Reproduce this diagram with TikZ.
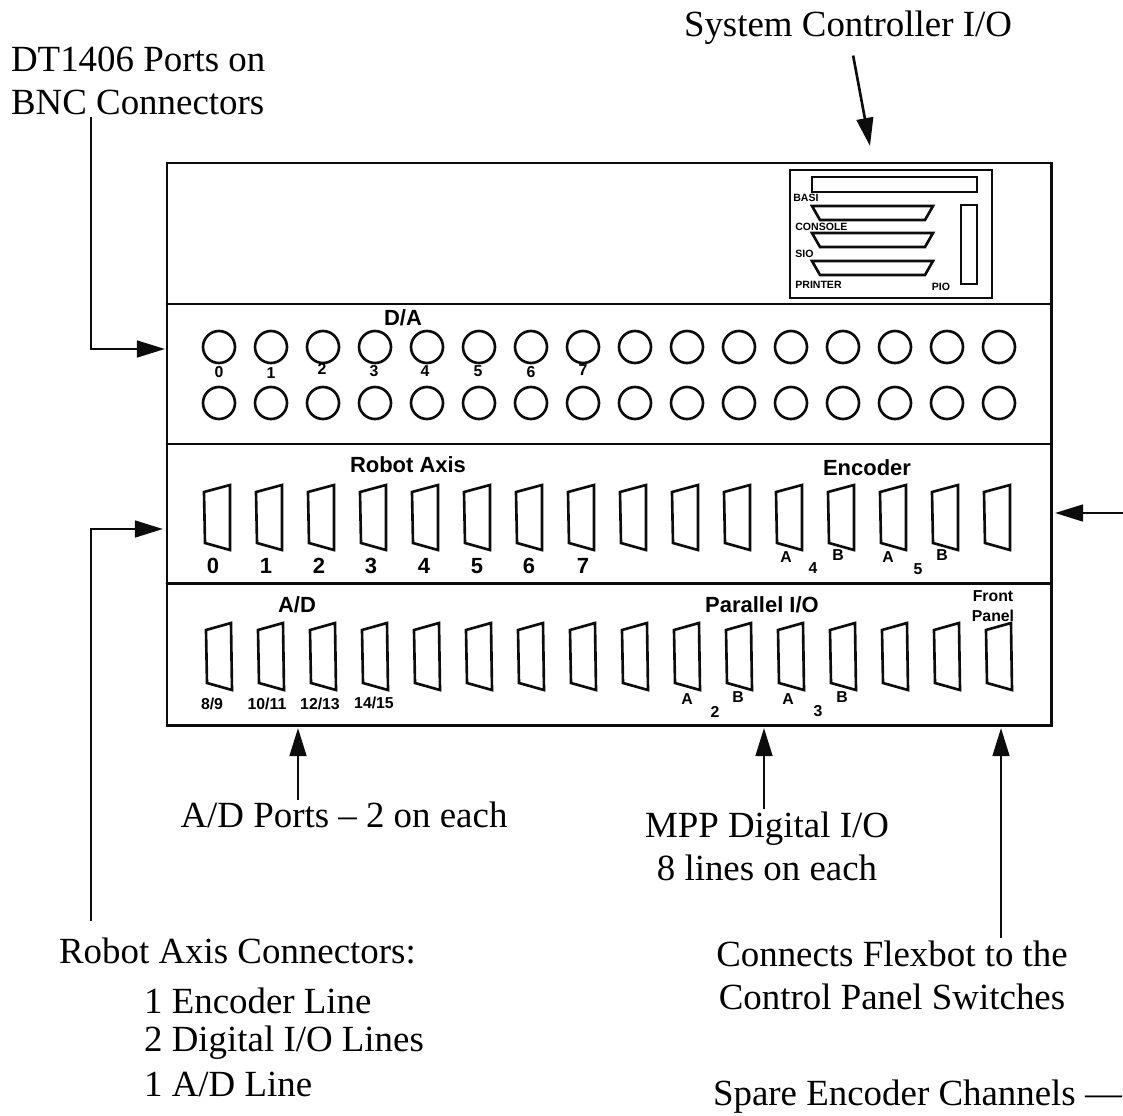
\documentclass[tikz,border=0pt]{standalone}
\usepackage{fontspec}
\setmainfont{Liberation Serif}
\newfontfamily\panelfont{Liberation Sans}
\usetikzlibrary{arrows.meta,calc}
\usepackage{tkz-euclide}
\definecolor{InkClr}{RGB}{12,12,12}
\tikzset{
  biglabel/.style={inner sep=1pt,font=\fontsize{21}{24.5}\selectfont,align=center},
  headlabel/.style={inner sep=0pt,font=\panelfont\bfseries\fontsize{12.5}{14}\selectfont},
  portlabel/.style={inner sep=0pt,font=\panelfont\bfseries\fontsize{9}{11}\selectfont,align=center},
  tinylabel/.style={inner sep=0pt,font=\panelfont\bfseries\fontsize{6}{7}\selectfont},
  wire/.style={line width=1.5pt,color=InkClr,-{Triangle[length=16pt,width=9.5pt]}},
  bnc/.style={line width=1.5pt,color=InkClr},
  dsub/.style={line width=1.5pt,color=InkClr,line join=miter}
}
\begin{document}
\begin{tikzpicture}[x=.02cm,y=-.02cm]
\useasboundingbox (0,0) rectangle (1123,1116);

\tkzDefPoints{167/163/PA,1051/163/PB,1051/725/PC,167/725/PD}
\tkzDefPoints{167/304/DA,1051/304/DB,167/444/RA,1051/444/RB,167/583/LA,1051/583/LB}
\tkzDefPoints{870/146/tipsys,165/349/tipdt,91/349/kneedt,163/529/tipaxis,91/529/kneeaxis,91/921/tailaxis}
\tkzDefPoints{298/728/tipad,764/728/tipmpp,1001/728/tipflex,1055/513/tipspare,1123/513/tailspare}

\draw[line width=1.7pt,color=InkClr] (PA) rectangle (PC);
\tkzDrawSegments[line width=1.7pt,color=InkClr](DA,DB RA,RB LA,LB)

% system controller plate
\draw[line width=1.5pt,color=InkClr] (790,170) rectangle (992,298);
\draw[line width=1.5pt,color=InkClr] (812,177) rectangle (977,192);
\draw[line width=1.5pt,color=InkClr] (961,205) rectangle (977,284);
\foreach \y in {206,233,261}
  \draw[dsub] (812,\y) -- (933,\y) -- (925,\y+14) -- (820,\y+14) -- cycle;
\node[tinylabel,anchor=west] (lblbasi) at (793,198) {BASI};
\node[tinylabel,anchor=west] (lblconsole) at (795,227) {CONSOLE};
\node[tinylabel,anchor=west] (lblsio) at (795,254) {SIO};
\node[tinylabel,anchor=west] (lblprinter) at (795,285) {PRINTER};
\node[tinylabel] (lblpio) at (941,287) {PIO};

% D/A row
\foreach \i in {0,...,15}{
  \draw[bnc] (219+52*\i,347) circle (16);
  \draw[bnc] (219+52*\i,403) circle (16);
}
\node[headlabel] (lblda) at (403,318) {D/A};
\foreach \x/\y/\t in {219/372/0,271/373/1,322/369/2,374/371/3,425/371/4,478/371/5,531/372/6,583/370/7}
  \node[portlabel] (da\t) at (\x,\y) {\t};

% robot axis row
\foreach \i in {0,...,15}{
  \draw[dsub] (204+52*\i,492) -- (230+52*\i,485) -- (230+52*\i,550) -- (205+52*\i,543) -- cycle;
  \draw[dsub] (206+52*\i,630) -- (231+52*\i,623) -- (232+52*\i,690) -- (207+52*\i,683) -- cycle;
}
\node[headlabel] (lblrobot) at (408,465) {Robot Axis};
\node[headlabel] (lblenc) at (867,468) {Encoder};
\foreach \x/\t in {213/0,266/1,319/2,371/3,424/4,477/5,529/6,583/7}
  \node[headlabel] (axis\t) at (\x,566) {\t};
\node[portlabel] (ena) at (786,557) {A};
\node[portlabel] (enb) at (838,555) {B};
\node[portlabel] (enc) at (888,557) {A};
\node[portlabel] (end) at (942,555) {B};
\node[portlabel] (en4) at (813,568) {4};
\node[portlabel] (en5) at (918,569) {5};

% A/D row
\node[headlabel] (lblanalog) at (297,605) {A/D};
\node[headlabel] (lblpar) at (762,605) {Parallel I/O};
\node[portlabel] (lblfront) at (993,606) {Front\\Panel};
\foreach \x/\y/\t in {212/704/8\slash 9,267/704/10\slash 11,320/704/12\slash 13,374/703/14\slash 15}
  \node[portlabel] at (\x,\y) {\t};
\node[portlabel] (para) at (687,699) {A};
\node[portlabel] (parb) at (738,697) {B};
\node[portlabel] (parc) at (788,699) {A};
\node[portlabel] (pard) at (842,697) {B};
\node[portlabel] (par2) at (715,712) {2};
\node[portlabel] (par3) at (818,711) {3};

% outside labels
\node[biglabel] (lblsys) at (848,28) {System Controller I/O};
\node[biglabel,align=left,anchor=west] (lbldt) at (9,81) {DT1406 Ports on\\BNC Connectors};
\node[biglabel] (lblad) at (344,815) {A/D Ports -- 2 on each};
\node[biglabel] (lblmpp) at (767,846) {MPP Digital I/O\\8 lines on each};
\node[biglabel,anchor=west] (lblaxis) at (57,951) {Robot Axis Connectors:};
\node[biglabel,anchor=west] (lblline1) at (142,1001) {1 Encoder Line};
\node[biglabel,anchor=west] (lblline2) at (142,1043) {2 Digital I/O Lines};
\node[biglabel,anchor=west] (lblline3) at (142,1084) {1 A/D Line};
\node[biglabel] (lblflex) at (892,975) {Connects Flexbot to the\\Control Panel Switches};
\node[biglabel,anchor=west] (lblspare) at (711,1097) {Spare Encoder Channels ---};

% arrows
\draw[wire,shorten <=5pt] (lblsys) -- (tipsys);
\draw[wire] (lbldt.south -| kneedt) -- (kneedt) -- (tipdt);
\draw[wire] (tailaxis) -- (kneeaxis) -- (tipaxis);
\draw[wire] (lblad.north -| tipad) -- (tipad);
\draw[wire] (lblmpp.north -| tipmpp) -- (tipmpp);
\draw[wire] (lblflex.north -| tipflex) -- (tipflex);
\draw[wire] (tailspare) -- (tipspare);
\end{tikzpicture}
\end{document}
